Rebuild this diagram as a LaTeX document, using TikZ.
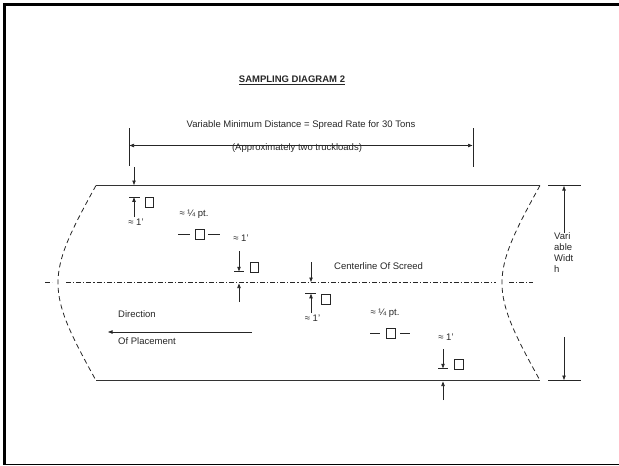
\documentclass[tikz,border=0pt]{standalone}
\usepackage{fontspec}
\setmainfont{Liberation Sans}
\usetikzlibrary{arrows.meta}
\begin{document}
\begin{tikzpicture}[x=1pt,y=-1pt,
  lbl/.style={inner sep=0pt, font=\fontsize{9.5}{11}\selectfont, text=black!85},
  thinln/.style={line width=0.7pt, draw=black!85},
  edgeln/.style={line width=1.3pt, draw=black!80},
  arr/.style={line width=0.7pt, draw=black!85, -{Triangle[length=4.5pt,width=3.4pt]}},
  dblarr/.style={line width=0.7pt, draw=black!85, {Triangle[length=4.5pt,width=3.4pt]}-{Triangle[length=4.5pt,width=3.4pt]}},
  sq/.style={draw=black!85, line width=0.7pt, minimum width=8.5pt, minimum height=10pt, inner sep=0pt},
  dashcurve/.style={line width=0.8pt, draw=black!85, dash pattern=on 5pt off 3.5pt},
  cline/.style={line width=0.7pt, draw=black!85, dash pattern=on 5pt off 2pt on 1.2pt off 2pt}
]
\useasboundingbox (0,0) rectangle (619,466);
% frame (no right side)
\draw[line width=2.6pt] (619,4.7) -- (4.7,4.7) -- (4.7,465);
\draw[line width=1.2pt] (4.7,464.4) -- (619,464.4);

% title and dimension
\node[lbl, font=\fontsize{9.5}{11}\selectfont\bfseries] (title) at (292,80) {\underline{SAMPLING DIAGRAM 2}};
\node[lbl] (vmd) at (301,125) {Variable Minimum Distance = Spread Rate for 30 Tons};
\node[lbl] (approx) at (297,148.5) {(Approximately two truckloads)};
\coordinate (tlA) at (129,128); \coordinate (tlB) at (129,166);
\coordinate (trA) at (473,128); \coordinate (trB) at (473,167);
\draw[thinln] (tlA) -- (tlB);
\draw[thinln] (trA) -- (trB);
\coordinate (dimL) at (129.5,145.5); \coordinate (dimR) at (472.5,145.5);
\draw[dblarr] (dimL) -- (dimR);
\coordinate (topArrA) at (134,167); \coordinate (topArrB) at (134,185);
\draw[arr] (topArrA) -- (topArrB);

% road edges
\coordinate (TL) at (96,185.5); \coordinate (TR) at (540,185.5);
\coordinate (BL) at (96,380.5); \coordinate (BR) at (540,380.5);
\draw[edgeln] (TL) -- (TR);
\draw[edgeln] (BL) -- (BR);
\draw[dashcurve] (TL) .. controls (45.3,277) and (45.3,289) .. (BL);
\draw[dashcurve] (TR) .. controls (489.3,277) and (489.3,289) .. (BR);

% centerline
\draw[cline] (45,282.5) -- (52,282.5);
\draw[cline] (66,282.5) -- (496,282.5);
\draw[cline] (509,282.5) -- (533,282.5);

% variable width
\coordinate (rt1) at (548,185.5); \coordinate (rt2) at (581,185.5);
\coordinate (rb1) at (548,380.5); \coordinate (rb2) at (581,380.5);
\draw[thinln] (rt1) -- (rt2);
\draw[thinln] (rb1) -- (rb2);
\coordinate (vwA) at (564,233); \coordinate (vwB) at (564,186);
\coordinate (vwC) at (564,337); \coordinate (vwD) at (564,380);
\draw[arr] (vwA) -- (vwB);
\draw[arr] (vwC) -- (vwD);
\node[lbl, align=left, anchor=north west] (vw) at (554,232.5) {Vari\\able\\Widt\\h};

% sample group upper
\node[sq] (s1) at (149.5,202) {};
\draw[thinln] (129,197) -- (140,197);
\coordinate (m1a) at (134,217); \coordinate (m1b) at (134,197.3);
\draw[arr] (m1a) -- (m1b);
\node[lbl] (t1) at (136,222) {≈ 1’};
\node[lbl] (q1) at (194,214) {≈ ¼ pt.};
\node[sq] (s2) at (200,234.5) {};
\draw[thinln] (178,234.5) -- (190,234.5);
\draw[thinln] (208,234.5) -- (220,234.5);
\node[lbl] (t2) at (241,238) {≈ 1’};
\node[sq] (s3) at (254.5,267.5) {};
\draw[thinln] (234,271.5) -- (244,271.5);
\coordinate (m2a) at (239,251); \coordinate (m2b) at (239,271.3);
\draw[arr] (m2a) -- (m2b);
\coordinate (c1a) at (239,302); \coordinate (c1b) at (239,283.5);
\draw[arr] (c1a) -- (c1b);

% centerline label
\node[lbl, anchor=west] (cl) at (334,266.5) {Centerline Of Screed};
\coordinate (c2a) at (311,262); \coordinate (c2b) at (311,282);
\draw[arr] (c2a) -- (c2b);

% sample group lower
\node[sq] (s4) at (326,299) {};
\draw[thinln] (305,293.5) -- (316,293.5);
\coordinate (m3a) at (311,313); \coordinate (m3b) at (311,293.8);
\draw[arr] (m3a) -- (m3b);
\node[lbl] (t3) at (312.5,318) {≈ 1’};
\node[lbl] (q2) at (385,313) {≈ ¼ pt.};
\node[sq] (s5) at (391,333) {};
\draw[thinln] (370,333) -- (380,333);
\draw[thinln] (400,333) -- (410,333);
\node[lbl] (t4) at (446,337) {≈ 1’};
\node[sq] (s6) at (459,364.5) {};
\draw[thinln] (438,368.5) -- (448,368.5);
\coordinate (m4a) at (443,349); \coordinate (m4b) at (443,368.3);
\draw[arr] (m4a) -- (m4b);
\coordinate (c3a) at (443,400); \coordinate (c3b) at (443,381.5);
\draw[arr] (c3a) -- (c3b);

% direction
\node[lbl, anchor=west] (dir) at (118,314) {Direction};
\node[lbl, anchor=west] (plc) at (118,341) {Of Placement};
\coordinate (dA) at (252,332); \coordinate (dB) at (108,332);
\draw[arr] (dA) -- (dB);
\end{tikzpicture}
\end{document}
